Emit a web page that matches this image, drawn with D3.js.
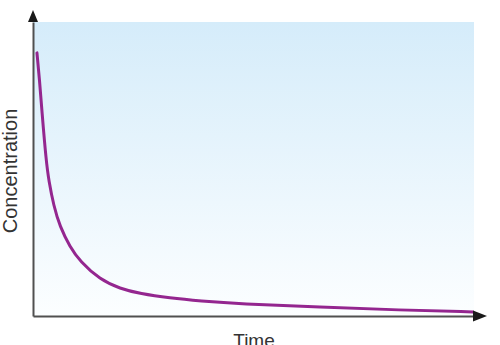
<!DOCTYPE html>
<html lang="en">
<head>
    <meta charset="UTF-8">
    <title>Concentration vs Time</title>
    <script src="https://d3js.org/d3.v7.js"></script>
    <style>
        body { margin: 0; background: white; }
        svg { display: block; }
    </style>
</head>
<body>

<svg id="chart" width="500" height="345"></svg>

<script>

// Data (time and concentration in arbitrary units, 0-100)
const times = [0.9, 1.5, 2.0, 3.0, 3.6, 4.7, 6.1, 8.4, 10.7, 15.2, 19.8, 24.3, 31.1, 38, 47, 65.2, 83.4, 100];
const concentrations = [89.5, 80.0, 70.1, 52.5, 46.0, 37.5, 30.5, 23.5, 18.6, 12.4, 9.3, 7.6, 6.1, 5.1, 4.1, 3.1, 2.0, 1.4];
const axisLabels = ["Time", "Concentration"];

var svg = d3.select("#chart");

// Scales
var x = d3.scaleLinear().domain([0, 100]).range([33, 473]);
var y = d3.scaleLinear().domain([0, 100]).range([316, 22]);

// background gradient
var grad = svg.append("defs").append("linearGradient")
    .attr("id", "bg")
    .attr("x1", 0).attr("y1", 0).attr("x2", 0).attr("y2", 1);
grad.append("stop").attr("offset", "0%").attr("stop-color", "#d5ecfa");
grad.append("stop").attr("offset", "100%").attr("stop-color", "#fcfeff");

svg.append("rect")
    .attr("x", x(0))
    .attr("y", y(100))
    .attr("width", x(100) - x(0) + 1)
    .attr("height", y(0) - y(100))
    .attr("fill", "url(#bg)");

// the curve
var points = times.map(function(t, i) { return [t, concentrations[i]]; });
var line = d3.line()
    .x(function(d) { return x(d[0]); })
    .y(function(d) { return y(d[1]); })
    .curve(d3.curveBasis);

svg.append("path")
    .datum(points)
    .attr("d", line)
    .attr("fill", "none")
    .attr("stroke", "#94268f")
    .attr("stroke-width", 3)
    .attr("stroke-linecap", "round");

// axes with no ticks
var axisColor = "#505050";
svg.append("g")
    .attr("transform", "translate(0," + y(0) + ")")
    .call(d3.axisBottom(x).tickValues([]).tickSizeOuter(0));
svg.append("g")
    .attr("transform", "translate(" + x(0) + ",0)")
    .call(d3.axisLeft(y).tickValues([]).tickSizeOuter(0));
svg.selectAll(".domain")
    .attr("stroke", axisColor)
    .attr("stroke-width", 2);

// arrow heads
var x0 = x(0), y0 = y(0), xEnd = x(100), yEnd = y(100);
svg.append("path")
    .attr("d", "M" + (x0 - 5) + "," + yEnd + "L" + x0 + "," + (yEnd - 12) + "L" + (x0 + 5) + "," + yEnd + "Z")
    .attr("fill", "#1a1a1a");
svg.append("path")
    .attr("d", "M" + xEnd + "," + (y0 - 5.5) + "L" + (xEnd + 14) + "," + y0 + "L" + xEnd + "," + (y0 + 5.5) + "Z")
    .attr("fill", "#1a1a1a");

// labels (the Time label sits partly below the bottom edge, as in the original)
svg.append("text")
    .attr("x", (x0 + xEnd) / 2 + 1)
    .attr("y", 347)
    .attr("text-anchor", "middle")
    .attr("font-family", "Liberation Sans, Arial, sans-serif")
    .attr("font-size", 19)
    .attr("fill", "#333")
    .text(axisLabels[0]);

svg.append("text")
    .attr("transform", "translate(17," + 171 + ") rotate(-90)")
    .attr("text-anchor", "middle")
    .attr("font-family", "Liberation Sans, Arial, sans-serif")
    .attr("font-size", 20)
    .attr("fill", "#333")
    .text(axisLabels[1]);

</script>
</body>
</html>
